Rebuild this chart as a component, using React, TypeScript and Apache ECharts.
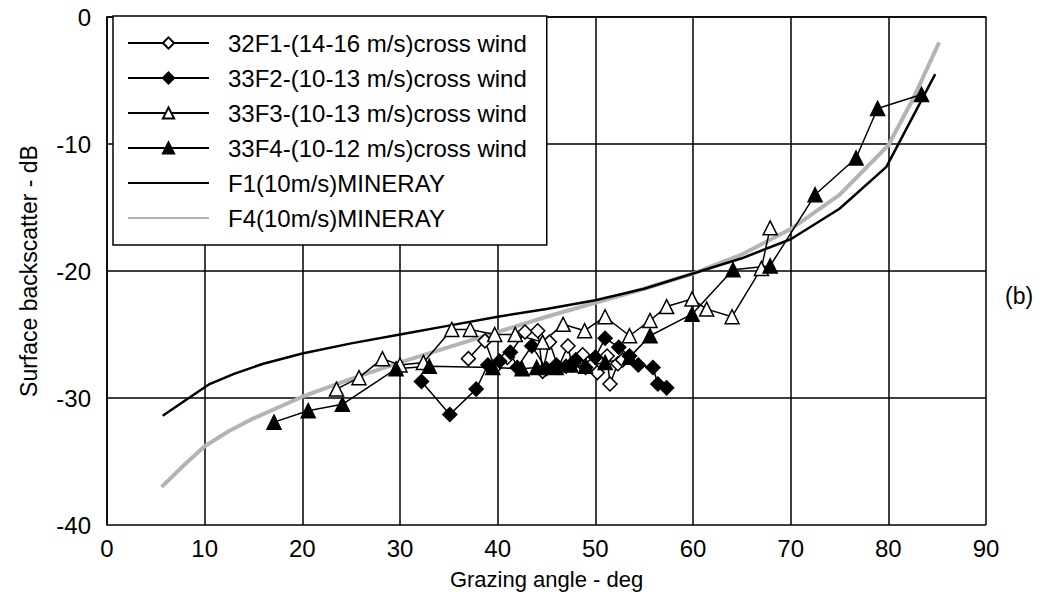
import React, { useEffect, useRef } from "react";
import * as echarts from "echarts";

const FONT = "'Liberation Sans', Arial, Helvetica, sans-serif";

const xTicks = [0, 10, 20, 30, 40, 50, 60, 70, 80, 90];
const yTicks = [-40, -30, -20, -10, 0];

const seriesNames = [
  "32F1-(14-16 m/s)cross wind",
  "33F2-(10-13 m/s)cross wind",
  "33F3-(10-13 m/s)cross wind",
  "33F4-(10-12 m/s)cross wind",
  "F1(10m/s)MINERAY",
  "F4(10m/s)MINERAY",
];

const s32F1: number[][] = [
  [37.0, -26.9], [38.7, -25.5], [39.7, -27.6], [41.0, -26.8], [42.8, -24.8],
  [44.1, -24.7], [44.6, -27.9], [45.3, -25.6], [46.2, -27.6], [47.2, -25.9],
  [47.6, -27.4], [48.7, -26.6], [49.5, -27.5], [50.2, -28.0], [51.2, -26.7],
  [51.5, -28.9], [52.3, -27.3], [52.8, -27.0],
];

const s33F2: number[][] = [
  [32.2, -28.7], [35.1, -31.3], [37.8, -29.3], [39.0, -27.4], [40.2, -27.1],
  [41.3, -26.4], [42.0, -27.6], [43.5, -25.9], [45.0, -27.7], [46.0, -27.4],
  [47.0, -27.5], [48.0, -27.0], [49.0, -27.6], [50.0, -26.8], [51.0, -25.3],
  [52.4, -26.0], [53.5, -26.7], [54.4, -27.4], [55.9, -27.6], [56.4, -28.9],
  [57.3, -29.2],
];

const s33F3: number[][] = [
  [23.5, -29.3], [25.8, -28.4], [28.2, -26.9], [30.0, -27.4], [32.4, -27.2],
  [35.3, -24.6], [37.2, -24.6], [39.7, -25.0], [41.8, -25.0], [44.6, -25.6],
  [46.7, -24.2], [48.9, -24.7], [51.0, -23.6], [53.5, -25.1], [55.6, -23.9],
  [57.3, -22.8], [59.9, -22.2], [61.4, -23.0], [64.0, -23.6], [67.0, -19.8],
  [67.9, -16.6],
];

const s33F4: number[][] = [
  [17.1, -31.9], [20.6, -31.0], [24.1, -30.5], [29.6, -27.7], [33.0, -27.5],
  [39.5, -27.6], [42.5, -27.7], [44.0, -27.6], [46.0, -27.6], [47.5, -27.4],
  [49.0, -27.5], [51.0, -27.2], [53.5, -26.8], [55.6, -25.1], [59.9, -23.4],
  [64.1, -19.9], [67.9, -19.6], [72.5, -14.0], [76.7, -11.1], [78.9, -7.2],
  [83.4, -6.1],
];

const f1Mineray: number[][] = [
  [5.7, -31.4], [8, -30.2], [10.5, -28.9], [13, -28.1], [16, -27.3], [20, -26.5],
  [25, -25.7], [30, -25.0], [35, -24.3], [40, -23.6], [45, -23.0], [50, -22.3],
  [55, -21.4], [60, -20.2], [65, -19.0], [70, -17.5], [75, -15.1], [79.8, -11.8],
  [84.8, -4.5],
];

const f4Mineray: number[][] = [
  [5.6, -37.0], [8, -35.2], [10, -33.8], [12.5, -32.6], [15, -31.6], [20, -29.9],
  [25, -28.5], [30, -27.2], [35, -26.0], [40, -24.8], [45, -23.6], [50, -22.5],
  [55, -21.4], [60, -20.2], [65, -18.7], [70, -16.7], [75, -14.0], [80, -10.1],
  [82.5, -6.5], [85.2, -2.0],
];

export default function App() {
  const ref = useRef<HTMLDivElement>(null);
  useEffect(() => {
    document.body.style.margin = "0";
    if (!ref.current) return;
    const chart = echarts.init(ref.current, undefined, { renderer: "svg" });
    const markerSeries = (name: string, data: number[][], symbol: string, filled: boolean) => ({
      name,
      type: "line",
      data,
      symbol,
      symbolSize: 14,
      z: 5,
      lineStyle: { color: "#000", width: 1.5 },
      itemStyle: { color: filled ? "#000" : "#fff", borderColor: "#000", borderWidth: 1.5 },
    });
    chart.setOption({
      animation: false,
      backgroundColor: "#fff",
      textStyle: { fontFamily: FONT },
      grid: { left: 107, right: 60, top: 17, bottom: 89 },
      xAxis: {
        type: "value",
        min: 0,
        max: 90,
        interval: 10,
        name: "Grazing angle - deg",
        nameLocation: "middle",
        nameGap: 43,
        nameTextStyle: { fontSize: 22, color: "#000", fontFamily: FONT },
        axisLine: { lineStyle: { color: "#000", width: 1.5 } },
        axisTick: { show: false },
        axisLabel: {
          fontSize: 24, color: "#000", margin: 11, fontFamily: FONT,
          formatter: (v: number) => (xTicks.includes(v) ? String(v) : ""),
        },
        splitLine: { show: true, lineStyle: { color: "#000", width: 1.5 } },
      },
      yAxis: {
        type: "value",
        min: -40,
        max: 0,
        interval: 10,
        name: "Surface backscatter - dB",
        nameLocation: "middle",
        nameGap: 67,
        nameRotate: 90,
        nameTextStyle: { fontSize: 23, color: "#000", fontFamily: FONT },
        axisLine: { show: true, lineStyle: { color: "#000", width: 1.5 } },
        axisTick: { show: false },
        axisLabel: {
          fontSize: 24, color: "#000", margin: 16, fontFamily: FONT,
          formatter: (v: number) => (yTicks.includes(v) ? String(v) : ""),
        },
        splitLine: { show: true, lineStyle: { color: "#000", width: 1.5 } },
      },
      legend: {
        show: true,
        orient: "vertical",
        left: 113,
        top: 16,
        data: [
          seriesNames[0],
          seriesNames[1],
          seriesNames[2],
          seriesNames[3],
          { name: seriesNames[4], itemStyle: { opacity: 0 } },
          { name: seriesNames[5], itemStyle: { opacity: 0 } },
        ],
        backgroundColor: "#fff",
        borderColor: "#000",
        borderWidth: 1.5,
        borderRadius: 0,
        padding: [15, 20, 15, 14],
        itemWidth: 81,
        itemHeight: 14,
        itemGap: 11,
        textStyle: { fontSize: 24, lineHeight: 24, color: "#000", fontFamily: FONT, padding: [0, 0, 0, 14] },
        z: 10,
      },
      series: [
        {
          name: seriesNames[4],
          type: "line",
          data: f1Mineray,
          showSymbol: false,
          symbol: "none",
          z: 3,
          lineStyle: { color: "#000", width: 2.5 },
          itemStyle: { color: "#000" },
        },
        {
          name: seriesNames[5],
          type: "line",
          data: f4Mineray,
          showSymbol: false,
          symbol: "none",
          z: 2,
          lineStyle: { color: "#b4b4b4", width: 4 },
          itemStyle: { color: "#b4b4b4" },
        },
        markerSeries(seriesNames[0], s32F1, "diamond", false),
        markerSeries(seriesNames[1], s33F2, "diamond", true),
        markerSeries(seriesNames[2], s33F3, "triangle", false),
        markerSeries(seriesNames[3], s33F4, "triangle", true),
      ],
      graphic: [
        {
          type: "text",
          left: 1005,
          top: 284,
          style: { text: "(b)", fontSize: 23, fill: "#000", fontFamily: FONT },
        },
      ],
    });
    return () => chart.dispose();
  }, []);
  return <div ref={ref} style={{ width: 1046, height: 614 }} />;
}
